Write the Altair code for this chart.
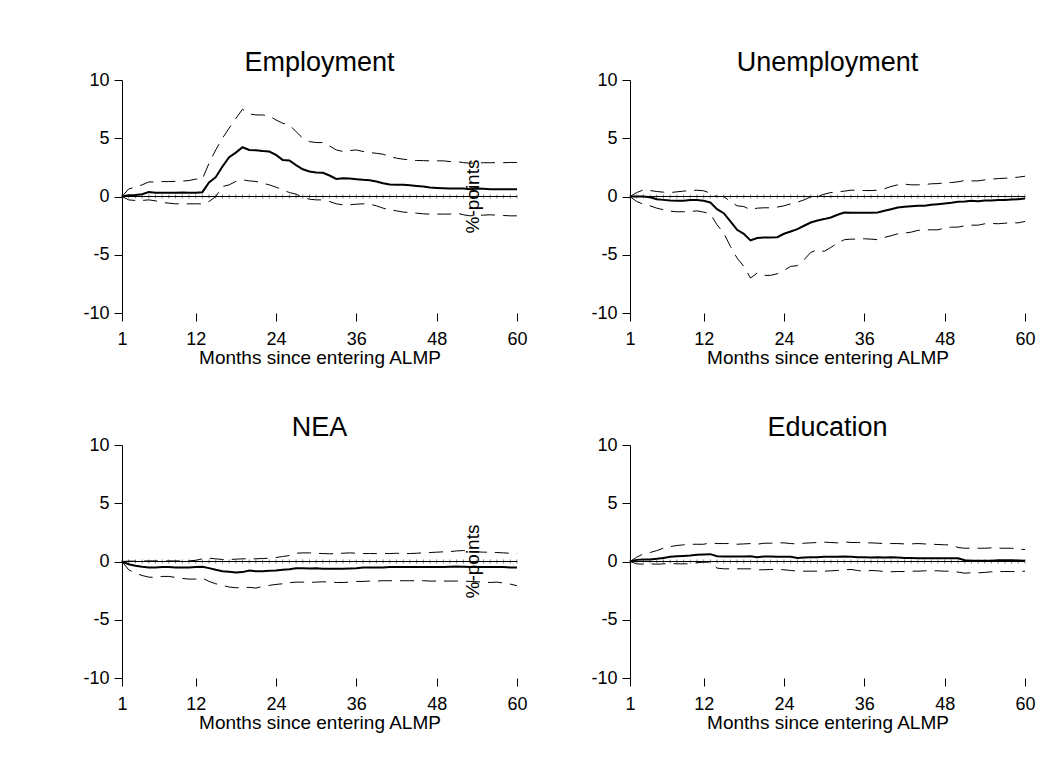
import altair as alt
import pandas as pd

# Months since entering the programme
months = list(range(1, 61))

# Employment: point estimate and 95% confidence bounds (%-points)
emp_est = [0, 0.1, 0.12, 0.2, 0.38, 0.32, 0.32, 0.32, 0.33, 0.35, 0.33, 0.33, 0.37, 1.2, 1.66,
           2.57, 3.37, 3.77, 4.23, 4.0, 3.97, 3.9, 3.86, 3.57, 3.14, 3.1, 2.7, 2.34, 2.14, 2.06,
           2.03, 1.8, 1.51, 1.57, 1.54, 1.49, 1.43, 1.4, 1.29, 1.14, 1.03, 1.0, 1.0, 0.97, 0.91,
           0.86, 0.77, 0.74, 0.71, 0.69, 0.69, 0.69, 0.63, 0.69, 0.66, 0.63, 0.62, 0.62, 0.62, 0.62]
emp_hi = [0, 0.65, 0.8, 1.0, 1.25, 1.25, 1.28, 1.28, 1.3, 1.32, 1.37, 1.49, 1.49, 2.86, 4.0,
          5.0, 5.86, 6.7, 7.49, 7.09, 7.0, 7.0, 6.91, 6.57, 6.29, 6.14, 5.57, 5.0, 4.71, 4.63,
          4.63, 4.34, 4.0, 3.86, 3.94, 4.0, 3.86, 3.77, 3.71, 3.63, 3.43, 3.29, 3.2, 3.14, 3.09,
          3.08, 3.06, 3.06, 3.06, 3.0, 3.0, 2.91, 2.86, 2.88, 2.9, 2.9, 2.9, 2.9, 2.92, 2.92]
emp_lo = [0, -0.29, -0.34, -0.34, -0.29, -0.37, -0.51, -0.57, -0.63, -0.63, -0.63, -0.63, -0.63,
          -0.43, 0.0, 0.86, 1.0, 1.29, 1.43, 1.34, 1.29, 1.14, 1.0, 0.8, 0.57, 0.34, 0.2, -0.06,
          -0.23, -0.29, -0.29, -0.43, -0.63, -0.71, -0.71, -0.66, -0.63, -0.66, -0.8, -1.0, -1.14,
          -1.23, -1.34, -1.37, -1.43, -1.49, -1.51, -1.51, -1.51, -1.51, -1.43, -1.57, -1.66, -1.6,
          -1.6, -1.57, -1.6, -1.63, -1.66, -1.66]

# Unemployment
unemp_est = [0, 0, 0, -0.06, -0.23, -0.29, -0.34, -0.37, -0.37, -0.31, -0.31, -0.37, -0.51, -1.09,
             -1.43, -2.14, -2.86, -3.2, -3.77, -3.57, -3.51, -3.51, -3.49, -3.2, -3.0, -2.8, -2.51,
             -2.23, -2.06, -1.94, -1.8, -1.57, -1.37, -1.4, -1.4, -1.4, -1.4, -1.37, -1.23, -1.09,
             -0.94, -0.89, -0.83, -0.8, -0.8, -0.71, -0.66, -0.6, -0.54, -0.46, -0.43, -0.37, -0.4,
             -0.34, -0.34, -0.31, -0.29, -0.26, -0.23, -0.17]
unemp_hi = [0, 0.34, 0.57, 0.51, 0.43, 0.37, 0.34, 0.4, 0.46, 0.51, 0.54, 0.49, 0.29, 0, 0, -0.43,
            -0.8, -0.86, -1.14, -1.0, -0.97, -0.97, -0.91, -0.8, -0.63, -0.49, -0.29, -0.03, 0, 0.2,
            0.34, 0.4, 0.46, 0.54, 0.54, 0.51, 0.51, 0.54, 0.66, 0.86, 1.0, 1.06, 1.0, 1.0, 1.03,
            1.09, 1.11, 1.17, 1.2, 1.26, 1.37, 1.34, 1.34, 1.43, 1.49, 1.54, 1.57, 1.6, 1.66, 1.74]
unemp_lo = [0, -0.43, -0.66, -0.8, -1.0, -1.14, -1.26, -1.31, -1.31, -1.29, -1.23, -1.34, -1.49,
            -2.43, -3.14, -4.29, -5.29, -6.0, -7.0, -6.57, -6.77, -6.77, -6.63, -6.34, -6.0, -5.94,
            -5.43, -4.8, -4.57, -4.71, -4.37, -4.0, -3.71, -3.66, -3.66, -3.63, -3.66, -3.71, -3.51,
            -3.37, -3.2, -3.14, -3.06, -2.91, -2.86, -2.86, -2.86, -2.71, -2.63, -2.63, -2.51, -2.46,
            -2.46, -2.34, -2.31, -2.34, -2.29, -2.26, -2.26, -2.14]

# NEA
nea_est = [0, -0.23, -0.37, -0.46, -0.51, -0.51, -0.48, -0.48, -0.51, -0.51, -0.51, -0.48, -0.46,
           -0.57, -0.71, -0.83, -0.88, -0.94, -0.91, -0.77, -0.83, -0.83, -0.8, -0.77, -0.71, -0.66,
           -0.57, -0.57, -0.6, -0.57, -0.63, -0.63, -0.63, -0.63, -0.6, -0.57, -0.51, -0.51, -0.51,
           -0.51, -0.48, -0.48, -0.48, -0.48, -0.48, -0.48, -0.48, -0.48, -0.48, -0.46, -0.43, -0.46,
           -0.48, -0.48, -0.48, -0.48, -0.48, -0.48, -0.51, -0.51]
nea_hi = [0, 0.03, 0.03, 0.04, 0.05, 0.05, 0.05, 0.05, 0.05, 0.05, 0.05, 0.1, 0.23, 0.28, 0.23,
          0.17, 0.17, 0.2, 0.23, 0.23, 0.23, 0.26, 0.28, 0.34, 0.43, 0.51, 0.71, 0.74, 0.74, 0.71,
          0.68, 0.66, 0.68, 0.71, 0.74, 0.71, 0.68, 0.68, 0.68, 0.68, 0.68, 0.71, 0.68, 0.68, 0.71,
          0.74, 0.77, 0.8, 0.83, 0.85, 0.91, 0.94, 0.85, 0.83, 0.8, 0.8, 0.77, 0.74, 0.71, 0.68]
nea_lo = [0, -0.71, -1.0, -1.2, -1.34, -1.37, -1.28, -1.28, -1.37, -1.45, -1.51, -1.51, -1.42,
          -1.71, -1.91, -2.05, -2.19, -2.25, -2.25, -2.22, -2.28, -2.14, -2.05, -1.97, -1.91, -1.82,
          -1.77, -1.77, -1.8, -1.77, -1.74, -1.77, -1.8, -1.8, -1.77, -1.71, -1.71, -1.68, -1.68,
          -1.65, -1.65, -1.65, -1.65, -1.65, -1.65, -1.65, -1.68, -1.68, -1.68, -1.68, -1.68, -1.68,
          -1.71, -1.74, -1.77, -1.8, -1.77, -1.85, -1.94, -2.08]

# Education
edu_est = [0, 0.14, 0.17, 0.17, 0.23, 0.31, 0.4, 0.46, 0.48, 0.51, 0.57, 0.6, 0.63, 0.46, 0.43,
           0.43, 0.43, 0.43, 0.46, 0.37, 0.43, 0.43, 0.4, 0.4, 0.4, 0.31, 0.34, 0.37, 0.37, 0.4,
           0.4, 0.4, 0.43, 0.4, 0.37, 0.37, 0.34, 0.37, 0.34, 0.37, 0.34, 0.31, 0.31, 0.28, 0.28,
           0.28, 0.28, 0.28, 0.28, 0.28, 0.11, 0.06, 0.06, 0.06, 0.06, 0.11, 0.11, 0.11, 0.09, 0.06]
edu_hi = [0, 0.37, 0.66, 0.77, 0.94, 1.14, 1.28, 1.37, 1.43, 1.48, 1.48, 1.48, 1.6, 1.54, 1.54,
          1.54, 1.48, 1.51, 1.54, 1.48, 1.57, 1.57, 1.6, 1.6, 1.54, 1.51, 1.57, 1.6, 1.63, 1.66,
          1.63, 1.6, 1.69, 1.63, 1.63, 1.6, 1.6, 1.57, 1.54, 1.54, 1.54, 1.51, 1.51, 1.54, 1.51,
          1.48, 1.46, 1.43, 1.43, 1.2, 1.14, 1.14, 1.14, 1.14, 1.17, 1.14, 1.14, 1.14, 1.06, 1.03]
edu_lo = [0, -0.2, -0.23, -0.2, -0.23, -0.2, -0.17, -0.2, -0.2, -0.2, -0.11, -0.06, -0.06, -0.57,
          -0.63, -0.63, -0.63, -0.63, -0.63, -0.71, -0.71, -0.68, -0.68, -0.71, -0.77, -0.83, -0.83,
          -0.83, -0.83, -0.83, -0.8, -0.77, -0.71, -0.68, -0.77, -0.86, -0.77, -0.8, -0.86, -0.88,
          -0.86, -0.86, -0.83, -0.83, -0.8, -0.8, -0.8, -0.83, -0.83, -0.91, -1.0, -0.97, -0.97,
          -0.94, -0.88, -0.86, -0.86, -0.86, -0.86, -0.83]

x_ticks = [1, 12, 24, 36, 48, 60]
y_ticks = [-10, -5, 0, 5, 10]
x_title = "Months since entering ALMP"
unit_label = "%-points"

FONT = "Liberation Sans"
W, H = 395, 233


def panel(title, est, lo, hi, show_unit):
    df = pd.DataFrame({
        "month": months * 3,
        "value": est + lo + hi,
        "band": ["est"] * 60 + ["lo"] * 60 + ["hi"] * 60,
    })
    x = alt.X("month:Q", scale=alt.Scale(domain=[1, 60], nice=False, zero=False),
              axis=alt.Axis(values=x_ticks, domain=False, tickSize=8, labelPadding=9,
                            labelFlush=False, labelFontSize=18, titleFontSize=19,
                            titlePadding=0, labelFont=FONT, titleFont=FONT,
                            titleFontWeight="normal", labelColor="black", titleColor="black",
                            tickColor="black", grid=False),
              title=x_title)
    y = alt.Y("value:Q", scale=alt.Scale(domain=[-10, 10], nice=False),
              axis=alt.Axis(values=y_ticks, tickSize=8, labelPadding=5, labelFontSize=18,
                            labelFlush=False, labelFont=FONT, labelColor="black",
                            tickColor="black", domainColor="black",
                            labelExpr="'' + datum.value", grid=False),
              title=None)

    base = alt.Chart(df)
    zero_df = pd.DataFrame({"month": months, "value": [0] * 60})
    zero_rule = alt.Chart(zero_df).mark_rule(color="black", strokeWidth=1).encode(
        y=alt.Y("value:Q", scale=alt.Scale(domain=[-10, 10], nice=False)))
    zero_ticks = alt.Chart(zero_df).mark_tick(orient="vertical", size=4, thickness=1,
                                              color="#444").encode(x=x, y=y)
    bounds = base.transform_filter("datum.band != 'est'").mark_line(
        color="black", strokeWidth=1, strokeDash=[14, 8]).encode(x=x, y=y, detail="band:N")
    point = base.transform_filter("datum.band == 'est'").mark_line(
        color="black", strokeWidth=2).encode(x=x, y=y)
    layers = [zero_ticks, zero_rule, bounds, point]
    if show_unit:
        unit_df = pd.DataFrame({"month": [53.4], "value": [0], "label": [unit_label]})
        layers.append(alt.Chart(unit_df).mark_text(angle=270, font=FONT, fontSize=19,
                                                   color="black").encode(
            x=alt.X("month:Q"), y=alt.Y("value:Q"), text="label:N"))
    return alt.layer(*layers).properties(
        width=W, height=H,
        title=alt.Title(title, fontSize=27, font=FONT, fontWeight="normal", color="black",
                        offset=-6))


top = alt.hconcat(panel("Employment", emp_est, emp_lo, emp_hi, True),
                  panel("Unemployment", unemp_est, unemp_lo, unemp_hi, False), spacing=62)
bottom = alt.hconcat(panel("NEA", nea_est, nea_lo, nea_hi, True),
                     panel("Education", edu_est, edu_lo, edu_hi, False), spacing=62)
chart = alt.vconcat(top, bottom, spacing=47).properties(
    padding={"left": 82, "top": 49, "right": 5, "bottom": 5}
).configure_view(strokeWidth=0)

chart.save("out.html", embed_options={"renderer": "svg", "actions": False})
